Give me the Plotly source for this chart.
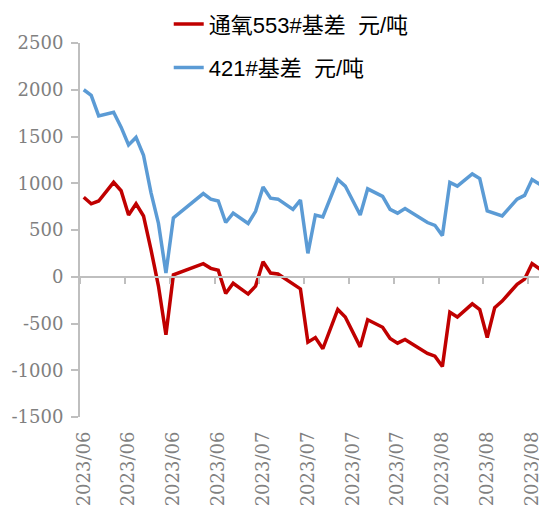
import plotly.graph_objects as go

# trading days (categories of the x axis)
dates = [
    "2023/06/01", "2023/06/02", "2023/06/05", "2023/06/06", "2023/06/07", "2023/06/08",
    "2023/06/09", "2023/06/12", "2023/06/13", "2023/06/14", "2023/06/15", "2023/06/16",
    "2023/06/19", "2023/06/20", "2023/06/21", "2023/06/22", "2023/06/23", "2023/06/26",
    "2023/06/27", "2023/06/28", "2023/06/29", "2023/06/30", "2023/07/03", "2023/07/04",
    "2023/07/05", "2023/07/06", "2023/07/07", "2023/07/10", "2023/07/11", "2023/07/12",
    "2023/07/13", "2023/07/14", "2023/07/17", "2023/07/18", "2023/07/19", "2023/07/20",
    "2023/07/21", "2023/07/24", "2023/07/25", "2023/07/26", "2023/07/27", "2023/07/28",
    "2023/07/31", "2023/08/01", "2023/08/02", "2023/08/03", "2023/08/04", "2023/08/07",
    "2023/08/08", "2023/08/09", "2023/08/10", "2023/08/11", "2023/08/14", "2023/08/15",
    "2023/08/16", "2023/08/17", "2023/08/18", "2023/08/21", "2023/08/22", "2023/08/23",
    "2023/08/24", "2023/08/25", "2023/08/28",
]

# 通氧553#基差 (None = no quote that day, line is joined across)
basis_553 = [
    850, 780, 810, None, 1010, 920, 660, 780, 650, 290,
    -100, -620, 20, None, None, None, 140, 90, 70, -180,
    -70, None, -185, -100, 160, 40, 30, None, None, -130,
    -700, -650, -770, None, -350, -430, None, -750, -460, None,
    -540, -660, -710, -670, None, None, -820, -850, -960, -380,
    -430, None, -290, -350, -650, -330, -260, None, -80, -25,
    140, 85, 65,
]

# 421#基差
basis_421 = [
    2000, 1940, 1720, None, 1760, 1600, 1410, 1490, 1300, 900,
    570, 40, 630, None, None, None, 890, 830, 810, 580,
    680, None, 570, 700, 960, 840, 830, None, 720, 820,
    250, 660, 640, None, 1040, 970, None, 660, 940, None,
    860, 720, 680, 730, None, None, 580, 550, 440, 1010,
    970, None, 1100, 1050, 705, 680, 650, None, 830, 870,
    1040, 990, 960,
]

y_ticks = [-1500, -1000, -500, 0, 500, 1000, 1500, 2000, 2500]
y_tick_text = ["-1500", "-1000", "-500", "0", "500", "1000", "1500", "2000", "2500"]

tick_dates = dates[::6]
tick_text = [d[:7] for d in tick_dates]

grey = "#BFBFBF"
label_grey = "#808080"
serif = "DejaVu Serif"
cjk = "Liberation Sans, Noto Sans CJK SC"

fig = go.Figure()
fig.add_trace(go.Scatter(
    x=dates, y=basis_553, mode="lines", connectgaps=True,
    name="通氧553#基差  元/吨", line=dict(color="#C00000", width=3.5),
    legend="legend",
))
fig.add_trace(go.Scatter(
    x=dates, y=basis_421, mode="lines", connectgaps=True,
    name="421#基差  元/吨", line=dict(color="#5B9BD5", width=3.5),
    legend="legend2",
))
# invisible trace that carries the bottom label axis
fig.add_trace(go.Scatter(
    x=dates, y=[None] * len(dates), xaxis="x2", showlegend=False,
    hoverinfo="skip",
))

xrange = [-0.5, 62.0]

# page body has an 8px margin, so the figure is 8px smaller than the window
fig.update_layout(
    width=539, height=504,
    margin=dict(l=72, r=0, t=35, b=95, autoexpand=False),
    plot_bgcolor="white", paper_bgcolor="white",
    showlegend=True,
    font=dict(family=serif),
    xaxis=dict(
        type="category", categoryorder="array", categoryarray=dates,
        range=xrange, anchor="free", position=0.375,
        showline=True, linecolor=grey, linewidth=2,
        tickmode="linear", tick0=0, dtick=6, tickson="boundaries",
        ticks="outside", ticklen=6, tickcolor=grey, tickwidth=2,
        showticklabels=False, showgrid=False, zeroline=False,
    ),
    xaxis2=dict(
        type="category", categoryorder="array", categoryarray=dates,
        range=xrange, overlaying="x", anchor="y", side="bottom",
        showline=False, ticks="", showgrid=False, zeroline=False,
        tickmode="array", tickvals=tick_dates, ticktext=tick_text,
        tickangle=-90, ticklabelstandoff=10,
        tickfont=dict(family=serif, size=18, color=label_grey),
    ),
    yaxis=dict(
        range=[-1500, 2500],
        tickmode="array", tickvals=y_ticks, ticktext=y_tick_text,
        showline=True, linecolor=grey, linewidth=2,
        ticks="outside", ticklen=7, tickcolor=grey, tickwidth=2,
        showgrid=False, zeroline=False, ticklabelstandoff=4,
        tickfont=dict(family=serif, size=18, color=label_grey),
    ),
    legend=dict(
        x=0.19, y=1.05, xanchor="left", yanchor="middle",
        bgcolor="rgba(0,0,0,0)", font=dict(family=cjk, size=22, color="#000000"),
    ),
    legend2=dict(
        x=0.19, y=0.934, xanchor="left", yanchor="middle",
        bgcolor="rgba(0,0,0,0)", font=dict(family=cjk, size=22, color="#000000"),
    ),
)

fig.write_html("out.html")
